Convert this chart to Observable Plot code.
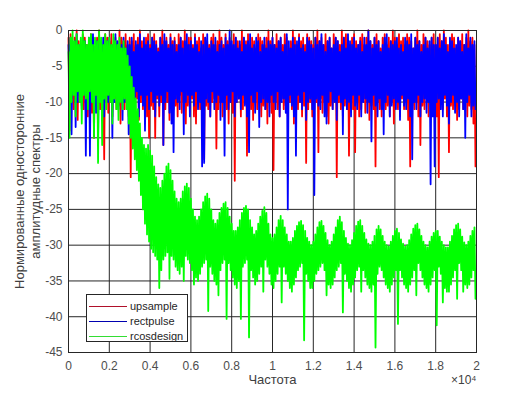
<!DOCTYPE html>
<html><head><meta charset="utf-8">
<script src="https://cdn.jsdelivr.net/npm/d3@7"></script>
<script src="https://cdn.jsdelivr.net/npm/@observablehq/plot@0.6"></script>
<style>
body{margin:0;background:#fff;}
#wrap{position:relative;width:525px;height:393px;font-family:"Liberation Sans",Arial,sans-serif;}
#legend{position:absolute;left:86px;top:294px;width:102px;height:48px;border:1px solid #262626;background:#fff;box-sizing:border-box;}
.row{position:absolute;left:2px;height:14px;display:flex;align-items:center;font-size:11px;color:#262626;white-space:nowrap;}
.sw{width:38px;height:0;border-top:1px solid;margin-right:3px;}
</style></head><body><div id="wrap"></div>
<script>
// frequency bin step (Hz); each bin holds the max (hi) and min (lo) of the dense spectrum
const step = 100;
const seriesNames = ["upsample", "rectpulse", "rcosdesign"];
const xTicks = [0,2000,4000,6000,8000,10000,12000,14000,16000,18000,20000];
const yTicks = [0,-5,-10,-15,-20,-25,-30,-35,-40,-45];
const xLabel = "Частота";
const yLabel = "Нормированные односторонние\nамплитудные спектры";

const upHi = [
-1,-0.5,-2,-1,0,-1.5,-2,-0.5,-1,-2,-1.5,-0.5,-1,-2.5,-1,0,-1.5,-2,-0.5,-1,
-1.5,-0.5,-2,-1,-2.5,0,-1,-1.5,-0.5,-2,-1,-1.5,-0.5,-2,-1,0,-1.5,-2,-1,-0.5,
-2,-1,-0.5,-1.5,-2.5,-1,0,-1.5,-1,-2,-0.5,-1.5,-1,-2,-0.5,-1,-1.5,0,-2,-1,
-1,-2,-0.5,-1.5,-1,-2.5,-0.5,-1,-1.5,-2,-1,-0.5,-2,-1.5,0,-1,-2,-0.5,-1.5,-1,
-2,-0.5,-1,-1.5,-2,0,-1,-1.5,-0.5,-2,-1,-1.5,-2.5,-0.5,-1,-1.5,-2,-1,0,-1.5,
-1,-2,-0.5,-1.5,-1,-2,-0.5,-1,-2.5,-1.5,0,-1,-2,-0.5,-1.5,-1,-2,-0.5,-1,-1.5,
-2,-1,0,-1.5,-1,-2,-0.5,-1.5,-1,-2.5,-0.5,-1,-1.5,-2,0,-1,-0.5,-1.5,-2,-1,
-0.5,-1.5,-2,-1,-0.5,-2,-1,0,-1.5,-2,-1,-0.5,-1.5,-2.5,-1,-0.5,-2,-1,-1.5,0,
-1,-2,-0.5,-1.5,-1,-2,-0.5,-1,-1.5,-2.5,-1,0,-1.5,-2,-0.5,-1,-1.5,-2,-1,-0.5,
-2,-1,-0.5,-1.5,0,-1,-2,-1.5,-0.5,-1,-2.5,-1,-1.5,-0.5,-2,-1,0,-1.5,-1,-2
];
const upLo = [
-14,-9.5,-11,-10,-12.5,-9,-10.5,-11,-9.5,-12,-10,-11.5,-15,-9.5,-10.5,-11,-9,-18,-10,-11.5,
-10,-12,-9.5,-11,-10.5,-13,-9,-11,-10,-12,-20.5,-10,-11,-9.5,-12.5,-10,-11,-9,-12,-15,
-10.5,-11,-15,-9.5,-12,-10,-16,-11,-10,-12.5,-9.5,-11,-10.5,-12,-9,-11.5,-10,-13,-10.5,-11,
-9.5,-12,-13,-10,-11,-9.5,-18,-10.5,-11,-12,-10,-9.5,-16.5,-11,-10,-12,-9.5,-11,-13,-10,
-11.5,-21,-10,-9.5,-12,-11,-10,-17.5,-9.5,-11,-12.5,-10,-11,-9.5,-12,-10.5,-11,-13,-10,-11.5,
-19.5,-10,-11,-12,-9.5,-11,-10.5,-12,-10,-11,-13,-9.5,-11,-10,-12,-10.5,-18.5,-11,-10,-12,
-11,-10,-17,-9.5,-11.5,-10,-12,-13,-10.5,-11,-9.5,-20.5,-10,-11,-12,-10.5,-11,-17.5,-10,-11,
-17,-10,-12,-11,-9.5,-11.5,-10,-12.5,-10.5,-11,-19,-10,-11,-12,-9.5,-11,-10.5,-12,-10,-13,
-10,-11,-12,-9.5,-11,-10,-12.5,-19,-10.5,-11,-10,-12,-16,-10.5,-11,-9.5,-12,-10,-11.5,-10,
-12,-20.5,-10,-11,-9.5,-12,-17,-10.5,-11,-10,-12.5,-11,-9.5,-11,-10,-12,-10.5,-11,-13,-19
];
const rectHi = [
-2,-1,-2.5,-1.5,-0.5,-2,-3,-1,-1.5,-2.5,-1,-2,-0.5,-2.5,-1.5,-2,-3,-1,-2,-1.5,
-1,-2.5,-2,-0.5,-1.5,-3,-2,-1,-2.5,-1.5,-2,-1,-3,-1.5,-2,-0.5,-2.5,-1,-2,-1.5,
-2.5,-1,-1.5,-2,-3,-1,-2,-0.5,-1.5,-2.5,-1,-2,-1.5,-3,-2,-1,-2.5,-1.5,-0.5,-2,
-1.5,-2.5,-1,-2,-3,-1.5,-2,-1,-0.5,-2.5,-1.5,-2,-1,-3,-2,-1.5,-2.5,-1,-2,0,
-1.5,-2,-1,-2.5,-1.5,-3,-1,-2,-1.5,-0.5,-2.5,-2,-1,-1.5,-3,-2,-1,-2.5,-1.5,-2,
-1,-2,-2.5,-1.5,-1,-3,-2,-0.5,-1.5,-2.5,-1,-2,-1.5,-1,-2.5,-2,-3,-1,-1.5,-2,
-2.5,-1,-2,-1.5,-0.5,-2,-3,-1.5,-1,-2.5,-2,-1,-1.5,-3,-2,-1,-2.5,-0.5,-1.5,-2,
-1,-2.5,-2,-1.5,-3,-1,-2,0,-1.5,-2.5,-1,-2,-1.5,-3,-2,-1,-0.5,-2.5,-1.5,-2,
-1.5,-1,-2.5,-2,-3,-1,-1.5,-2,-0.5,-2.5,-1,-2,-1.5,-3,-2,-1,-2.5,-1.5,-1,-2,
-2,-1,-2.5,-1.5,-0.5,-2,-3,-1,-1.5,-2.5,-2,-1,-1.5,-3,-2,-0.5,-2.5,-1,-2,-1.5
];
const rectLo = [
-9,-14.5,-8.5,-13.5,-10,-9,-11,-8.5,-17.5,-9.5,-17.5,-10,-8.5,-11.5,-15,-9,-10,-12,-8.5,-10,
-9.5,-15,-10,-8.5,-11,-9,-12.5,-10,-8.5,-14.5,-9.5,-11,-10,-8.5,-12,-9,-10.5,-14,-9,-11,
-8.5,-10,-12,-9,-10.5,-9,-16,-10,-8.5,-11.5,-13,-17,-9.5,-10,-11,-8.5,-14.5,-10,-9,-12,
-9,-10.5,-8.5,-11,-10,-19,-18.5,-9.5,-10,-12,-8.5,-11,-10,-9,-12.5,-10,-17.5,-9,-11,-10,
-8.5,-12,-10,-9.5,-11,-9,-10.5,-12,-17,-9,-10,-11.5,-8.5,-13.5,-10,-9.5,-11,-10,-12,-9,
-10,-11,-8.5,-12,-10,-9.5,-11.5,-25,-9,-10.5,-12,-17.5,-9,-10,-11,-8.5,-12.5,-10,-9.5,-11,
-23,-9.5,-10.5,-11,-9,-12,-13,-10,-8.5,-11,-10,-12.5,-9,-10,-14.5,-9.5,-11,-10,-12,-9,
-10.5,-11,-9,-12,-10,-9.5,-11.5,-10,-15.5,-9,-10.5,-12,-9.5,-11,-14.5,-10,-9,-12,-10.5,-9.5,
-11,-10,-12.5,-9,-10.5,-11,-9.5,-12,-18,-10,-11,-9,-12,-10,-9.5,-11.5,-10,-21.5,-12,-19,
-10,-9.5,-11,-12,-9,-10.5,-13,-10,-9,-11.5,-10,-12,-9.5,-11,-15,-10,-9,-12,-10.5,-11
];
const rcosHi = [
-3,-1,0,-1.5,-0.5,-2,-1,0,-1.5,-2,-1,-0.5,-2,-1,-1.5,0,-1,-2,-0.5,-1.5,
-1,-2,-0.5,-1.5,-2,-1,-2.5,-1.5,
-2.5,-3.5,-5,-6.5,-8,-9.5,-11,-13,-15,-16,-16.5,-16,
-16.8,-17.5,-19,-20.5,-21.5,-22,-21,-20,-19,-18.6,-19.5,-21,-22.5,-23.5,-24,-23.5,-22.5,-21.8,-21.4,-22,
-23.5,-25,-26,-26.5,-26,-25,-24,-23.2,-22.8,-23.5,-25,-26.5,-27,-26.5,-25.5,-24.8,-24.2,-24,-24.8,-26,
-27,-28,-28,-27.5,-26.5,-25.5,-24.8,-24.5,-25,-26.5,-27.5,-28.5,-28,-27,-26,-25.2,-24.7,-25.5,-27,-28.5,
-29,-28.5,-27.5,-26.5,-25.9,-26.5,-27.5,-28.5,-29.5,-29.5,-29,-28,-27.3,-26.8,-26.6,-27.2,-28,-29,-29.5,-30,
-29.5,-28.5,-27.5,-26.8,-26.6,-27.3,-28.3,-29.3,-30,-29.5,-28.5,-27.5,-26.5,-26,-26.8,-28,-29,-29.8,-30,-29.3,
-28.3,-27.3,-26.7,-26.5,-27.3,-28.3,-29.2,-29.8,-30,-29.5,-28.7,-27.8,-27.3,-27.8,-28.7,-29.5,-30,-30.2,-29.5,-28.7,
-28,-27.7,-28.3,-29.2,-29.8,-30.2,-30,-29.3,-28.5,-27.7,-27.2,-27,-27.8,-28.7,-29.5,-30,-30.3,-29.5,-28.8,-28.3,
-28,-28,-28.8,-29.5,-30,-30.3,-30.3,-29.5,-28.7,-27.8,-27.2,-27,-27.8,-28.8,-29.6,-30,-29.5,-28.7,-28,-27.5
];
const rcosLo = [
-15,-10,-9,-12,-8.5,-10,-13,-9,-9.5,-11,-8.5,-10,-15,-9,-18.5,-10,-16,-9.5,-11,-9,
-10,-13,-9.5,-11,-12.5,-10,-11,-9.5,
-11,-13,-15,-16.5,-18,-19.5,-21,-23,-25,-27,-28.5,-29.5,
-30.5,-31,-31.5,-32,-36,-33.5,-32,-31.5,-31,-34.7,-31.5,-32,-33,-33.5,-34,-33,-35,-31.5,-32,-32.5,
-33.5,-35.5,-34.5,-35,-34,-33,-32.5,-32,-39.2,-33,-34,-35,-35.5,-37,-33.5,-32.5,-32,-40.3,-32.5,-33.5,
-34.5,-35.5,-36,-35,-40.3,-33,-32.5,-32,-42.9,-33.5,-34.5,-35.5,-35,-34,-33,-36.5,-32,-33,-34,-35.5,
-36,-35,-34,-33,-38,-33,-34,-35,-36,-36.5,-35.5,-34.5,-33.5,-33,-32.5,-43.3,-34,-35,-36,-36,
-35,-34,-33.5,-33,-32.5,-33.5,-37,-35.5,-36,-35.5,-34.5,-33.5,-33,-32.5,-39.4,-34,-35,-36,-36.5,-35.5,
-34.5,-33.5,-33,-36.5,-33.5,-34.5,-35.5,-36,-36.5,-35.5,-44.3,-34,-33,-33.5,-34.5,-35.5,-36,-36.5,-35.5,-34.5,
-33.5,-41,-33.5,-34.5,-35.5,-36,-36.5,-35.5,-34.5,-33.5,-37,-32.5,-33.5,-34.5,-35.5,-36,-36.5,-35.5,-34.5,-33.5,
-41.2,-33,-34,-38,-36,-36.5,-36.5,-35.5,-34.5,-33.5,-37.5,-32.5,-33.5,-36.5,-35.5,-36,-35.5,-34.5,-33.5,-37.5
];

for (const [n, a] of Object.entries({upHi, upLo, rectHi, rectLo, rcosHi, rcosLo})) {
  if (a.length !== 200) throw new Error(n + " length " + a.length);
}

// dense trace: max then min in each bin
function trace(hi, lo) {
  return hi.flatMap((h, i) => [{f: i * step, v: h}, {f: i * step + step / 2, v: lo[i]}]);
}
const upRows = trace(upHi, upLo);
const rectRows = trace(rectHi, rectLo);
const rcosRows = trace(rcosHi, rcosLo);

const colors = ["#ff0000", "#0000ff", "#00ff00"];
const legendColors = ["#b0102a", "#0000b0", "#33dd33"];

const chart = Plot.plot({
  width: 525, height: 393,
  marginLeft: 68, marginRight: 49, marginTop: 30, marginBottom: 41,
  style: {fontSize: "12px", fontFamily: "'Liberation Sans', Arial, sans-serif", color: "#4d4d4d", background: "#fff"},
  x: {domain: [0, 20000], ticks: xTicks, tickFormat: d => String(d / 1e4), tickSize: 0, tickPadding: 9, label: null},
  y: {domain: [-45, 0], ticks: yTicks, tickFormat: d => String(d), tickSize: 0, tickPadding: 6, label: null},
  marks: [
    Plot.gridX(xTicks, {stroke: "#262626", strokeOpacity: 1}),
    Plot.gridY(yTicks, {stroke: "#262626", strokeOpacity: 1}),
    Plot.line(upRows, {x: "f", y: "v", stroke: colors[0], strokeWidth: 1.8}),
    Plot.line(rectRows, {x: "f", y: "v", stroke: colors[1], strokeWidth: 1.8}),
    Plot.line(rcosRows, {x: "f", y: "v", stroke: colors[2], strokeWidth: 1.8}),
    Plot.frame({stroke: "#262626"}),
    Plot.text([xLabel], {frameAnchor: "bottom", dy: 31, fontSize: 13, fill: "#404040"}),
    Plot.text(["×10⁴"], {frameAnchor: "bottom-right", dy: 31, textAnchor: "end", fontSize: 12, fill: "#404040"}),
    Plot.text([yLabel], {frameAnchor: "left", dx: -42, rotate: -90, textAnchor: "middle", lineAnchor: "middle", fontSize: 13, lineHeight: 1.25, fill: "#404040"})
  ]
});
const wrap = document.getElementById("wrap");
wrap.appendChild(chart);

const legend = document.createElement("div");
legend.id = "legend";
const tops = [4, 19, 34];
seriesNames.forEach((name, i) => {
  const row = document.createElement("div");
  row.className = "row";
  row.style.top = tops[i] + "px";
  const sw = document.createElement("span");
  sw.className = "sw";
  sw.style.borderTopColor = legendColors[i];
  row.appendChild(sw);
  row.appendChild(document.createTextNode(name));
  legend.appendChild(row);
});
wrap.appendChild(legend);
</script></body></html>
